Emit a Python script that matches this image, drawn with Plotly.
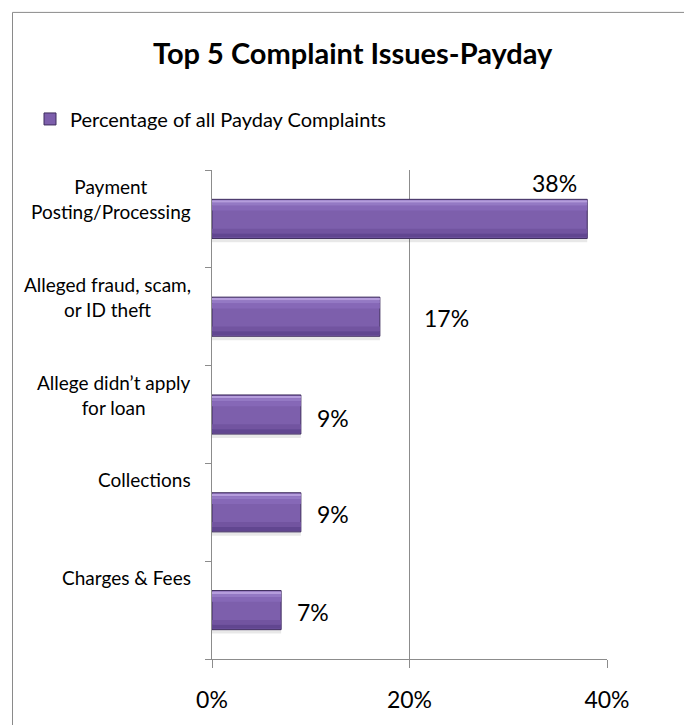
import plotly.graph_objects as go

# ---- data ----
categories = [
    "Payment<br>Posting/Processing",
    "Alleged fraud, scam,<br>or ID theft",
    "Allege didn\u2019t apply<br>for loan",
    "Collections",
    "Charges & Fees",
]
values = [0.38, 0.17, 0.09, 0.09, 0.07]
value_labels = ["38%", "17%", "9%", "9%", "7%"]
x_tick_vals = [0, 0.2, 0.4]
x_tick_text = ["0%", "20%", "40%"]
series_name = "Percentage of all Payday Complaints"
title_text = "Top 5 Complaint Issues-Payday"

# ---- layout geometry (pixels) ----
W, H = 684, 725
L, R, T, B = 212, 77, 170, 57
PW, PH = W - L - R, H - T - B

def px2x(px):
    return (px - L) / PW

def py2y(py):
    return (H - B - py) / PH

FONT = "Lato, Carlito, Calibri, sans-serif"
GRAY = "#8c8c8c"
pos = list(range(len(categories)))

fig = go.Figure()

# drop shadow
fig.add_trace(go.Bar(
    y=pos, x=values, orientation="h", width=0.4, offset=-0.16,
    marker=dict(color="rgba(0,0,0,0.09)", line=dict(width=0)),
    showlegend=False, hoverinfo="skip"))
# main bar
fig.add_trace(go.Bar(
    y=pos, x=values, orientation="h", width=0.4, offset=-0.2,
    name=series_name,
    marker=dict(color="#7d5fac", line=dict(color="#3f2d5e", width=1)),
    showlegend=True))
# bevel bands (top lighter, bottom darker)
bevel = [
    (-0.19, 0.025, "#b59ddc"),
    (-0.165, 0.03, "#9479c4"),
    (-0.135, 0.05, "#8668b7"),
    (0.1, 0.05, "#7254a0"),
    (0.15, 0.04, "#614690"),
]
for off, wd, col in bevel:
    fig.add_trace(go.Bar(
        y=pos, x=values, orientation="h", width=wd, offset=off,
        marker=dict(color=col, line=dict(width=0)),
        showlegend=False, hoverinfo="skip"))

annotations = []
# category labels (top of each band)
for i, c in enumerate(categories):
    annotations.append(dict(
        text=c, xref="paper", x=px2x(193), y=i - 0.5, yref="y",
        xanchor="right", yanchor="top", yshift=-3, align="center",
        showarrow=False, font=dict(family=FONT, size=19, color="#000")))

# data labels
label_style = [
    dict(xanchor="right", xshift=-8, yshift=36),
    dict(xanchor="left", xshift=42, yshift=-1),
    dict(xanchor="left", xshift=14, yshift=-3),
    dict(xanchor="left", xshift=14, yshift=-2),
    dict(xanchor="left", xshift=14, yshift=-2),
]
for i, (v, t) in enumerate(zip(values, value_labels)):
    st = label_style[i]
    annotations.append(dict(
        text=t, x=v, y=i, xref="x", yref="y", showarrow=False,
        xanchor=st["xanchor"], yanchor="middle",
        xshift=st["xshift"], yshift=st["yshift"],
        font=dict(family=FONT, size=23, color="#000")))

# title
annotations.append(dict(
    text="<b>" + title_text + "</b>", xref="paper", yref="paper",
    x=px2x(353), y=py2y(50), xanchor="center", yanchor="middle",
    showarrow=False, font=dict(family=FONT, size=29, color="#000")))

fig.update_layout(
    width=W, height=H,
    margin=dict(l=L, r=R, t=T, b=B, pad=0),
    paper_bgcolor="white", plot_bgcolor="white",
    barmode="overlay",
    font=dict(family=FONT, color="#000"),
    annotations=annotations,
    showlegend=True,
    legend=dict(
        x=px2x(30), y=py2y(118), xanchor="left", yanchor="middle",
        xref="paper", yref="paper",
        font=dict(family=FONT, size=20, color="#000"),
        bgcolor="rgba(0,0,0,0)", itemwidth=30,
    ),
    xaxis=dict(
        range=[0, 0.4], tickmode="array", tickvals=x_tick_vals, ticktext=x_tick_text,
        ticks="outside", ticklen=8, tickcolor=GRAY, tickwidth=1,
        showgrid=True, gridcolor=GRAY, gridwidth=1,
        showline=True, linecolor=GRAY, linewidth=1, zeroline=False,
        tickfont=dict(family=FONT, size=23, color="#000"), ticklabelstandoff=12,
        fixedrange=True,
    ),
    yaxis=dict(
        range=[len(categories) - 0.5, -0.5],
        tickmode="array", tickvals=[p - 0.5 for p in pos] + [len(pos) - 0.5],
        ticktext=[""] * (len(pos) + 1),
        ticks="outside", ticklen=6, tickcolor=GRAY, tickwidth=1,
        showgrid=False, showline=True, linecolor=GRAY, linewidth=1, zeroline=False,
        fixedrange=True,
    ),
    shapes=[dict(
        type="rect", xref="paper", yref="paper",
        x0=px2x(12.5), x1=px2x(720), y0=py2y(9.5), y1=py2y(760),
        line=dict(color="#8a8a8a", width=1), fillcolor="rgba(0,0,0,0)", layer="below")],
)

fig.write_html("out.html")
